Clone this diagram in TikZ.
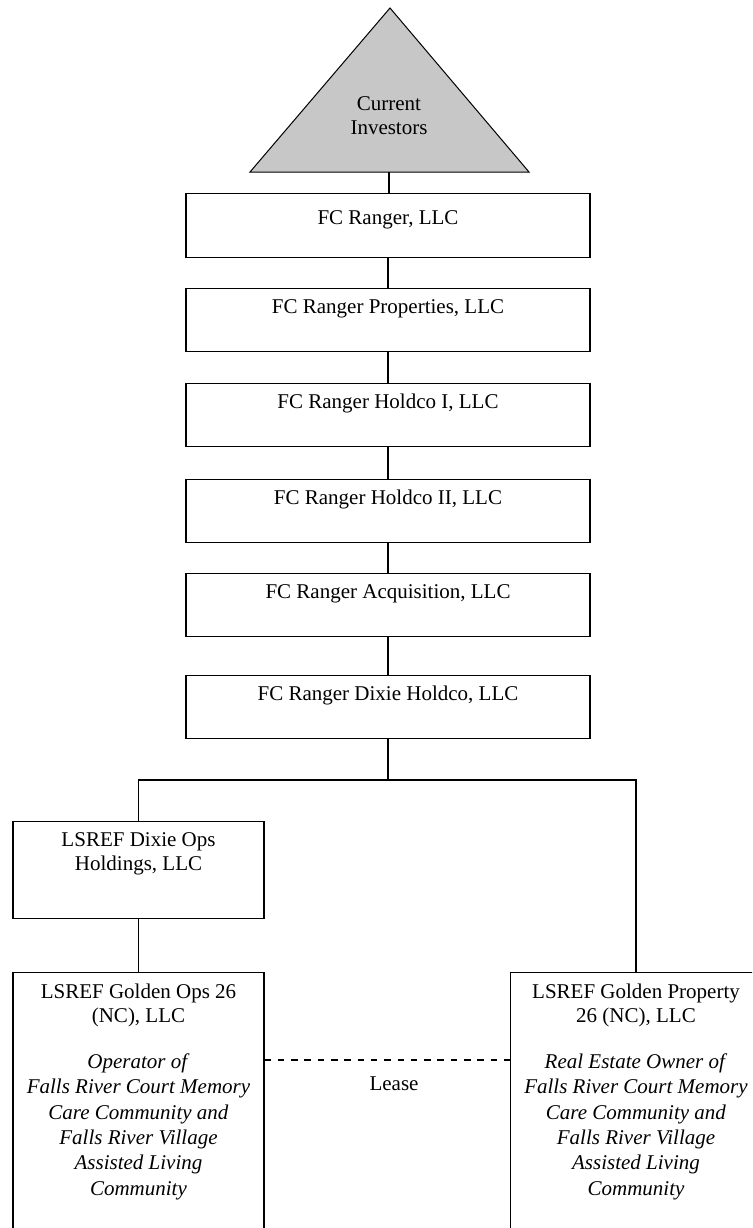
\documentclass[tikz,border=0pt]{standalone}
\usepackage{fontspec}
\setmainfont{Liberation Serif}
\begin{document}
\begin{tikzpicture}[x=1pt,y=-1pt,
  every node/.style={font=\fontsize{21}{24}\selectfont},
  line/.style={line width=1.1pt},
  mainbox/.style={draw,line width=1.1pt,anchor=north,inner sep=0pt,minimum width=404pt,text height=25pt,text depth=38pt},
  framebox/.style={draw,line width=1.1pt,anchor=north,inner sep=0pt,minimum width=251pt},
  boxtext/.style={anchor=north,inner sep=0pt,align=center},
  leaseline/.style={line width=1.1pt,dash pattern=on 6.5pt off 6.8pt}]
\useasboundingbox (0,0) rectangle (752,1228);
\clip (0,0) rectangle (752,1228);
\fill[white] (0,0) rectangle (752,1228);

% investors triangle
\draw[line width=1pt,fill=black!22] (390,8) -- (529,172) -- (250,172) -- cycle;
\coordinate (tri) at (389,172);
\node[align=center,inner sep=0pt] (inv) at (389,116) {Current\\Investors};

% chain of boxes
\node[mainbox,text height=31pt,text depth=33pt] (b1) at (388,193) {FC Ranger, LLC};
\node[mainbox] (b2) at (388,288) {FC Ranger Properties, LLC};
\node[mainbox] (b3) at (388,383) {FC Ranger Holdco I, LLC};
\node[mainbox] (b4) at (388,479) {FC Ranger Holdco II, LLC};
\node[mainbox] (b5) at (388,573) {FC Ranger Acquisition, LLC};
\node[mainbox] (b6) at (388,675) {FC Ranger Dixie Holdco, LLC};

\draw[line] (tri) -- (tri |- b1.north);
\draw[line] (b1.south) -- (b2.north);
\draw[line] (b2.south) -- (b3.north);
\draw[line] (b3.south) -- (b4.north);
\draw[line] (b4.south) -- (b5.north);
\draw[line] (b5.south) -- (b6.north);

% lower level
\node[framebox,minimum height=97pt] (ops) at (138.5,821) {};
\node[boxtext] (opst) at (ops.north) {\rule{0pt}{25pt}LSREF Dixie Ops\\Holdings, LLC};

\node[framebox,minimum height=320pt] (gops) at (138.5,972) {};
\node[boxtext] (gopst) at (gops.north) {\rule{0pt}{26pt}LSREF Golden Ops 26\\(NC), LLC\\[22pt]\textit{Operator of}\\[1.4pt]\textit{Falls River Court Memory}\\[1.4pt]\textit{Care Community and}\\[1.4pt]\textit{Falls River Village}\\[1.4pt]\textit{Assisted Living}\\[1.4pt]\textit{Community}};

\node[framebox,minimum height=320pt] (gprop) at (636,972) {};
\node[boxtext] (gpropt) at (gprop.north) {\rule{0pt}{26pt}LSREF Golden Property\\26 (NC), LLC\\[22pt]\textit{Real Estate Owner of}\\[1.4pt]\textit{Falls River Court Memory}\\[1.4pt]\textit{Care Community and}\\[1.4pt]\textit{Falls River Village}\\[1.4pt]\textit{Assisted Living}\\[1.4pt]\textit{Community}};

\coordinate (bus) at (388,780);
\draw[line] (b6.south) -- (bus);
\draw[line] (ops.north) |- (bus) -| (gprop.north);
\draw[line] (ops.south) -- (gops.north);

% lease
\coordinate (lease) at (394,1060);
\draw[leaseline] (lease -| gops.east) -- (lease -| gprop.west);
\node[inner sep=0pt] (leaset) at (394,1084) {Lease};
\end{tikzpicture}
\end{document}
